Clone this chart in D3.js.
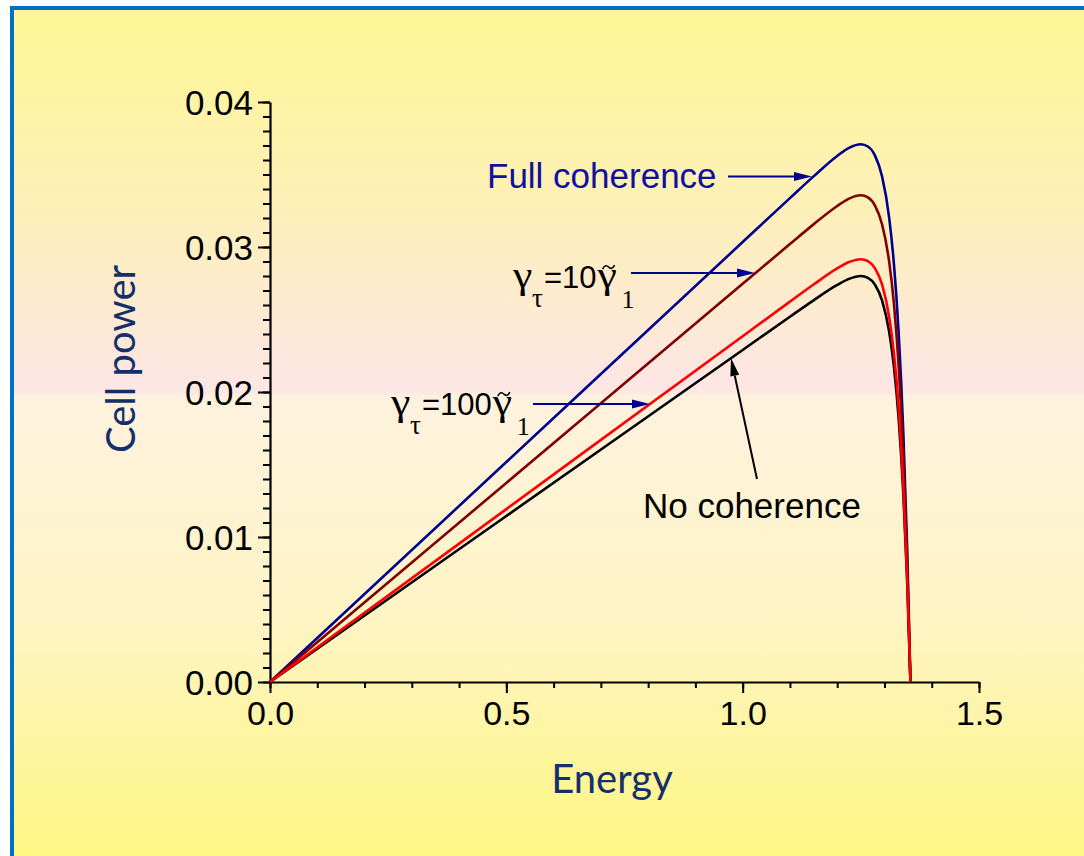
<!DOCTYPE html>
<html><head><meta charset="utf-8">
<script src="https://cdn.jsdelivr.net/npm/d3@7"></script>
<style>body{margin:0;background:#fff}svg{display:block}</style>
</head><body>
<script>
// ---- data ----
const energy        = [0, 0.5, 1.0, 1.1, 1.15, 1.2, 1.225, 1.25, 1.265, 1.28, 1.295, 1.31, 1.32, 1.33, 1.34, 1.348, 1.355];
const fullCoherence = [0, 0.01517, 0.03034, 0.03337, 0.03487, 0.03628, 0.03684, 0.03709, 0.03693, 0.03630, 0.03486, 0.03201, 0.02884, 0.02409, 0.01708, 0.00920, 0];
const gamma10       = [0, 0.01373, 0.02746, 0.03020, 0.03156, 0.03283, 0.03334, 0.03357, 0.03342, 0.03285, 0.03155, 0.02897, 0.02610, 0.02180, 0.01545, 0.00833, 0];
const gamma100      = [0, 0.011925, 0.02385, 0.02623, 0.02741, 0.02852, 0.02896, 0.02916, 0.02903, 0.02853, 0.02740, 0.02516, 0.02267, 0.01894, 0.01342, 0.00723, 0];
const noCoherence   = [0, 0.01145, 0.02290, 0.02519, 0.02632, 0.02738, 0.02780, 0.02800, 0.02787, 0.02740, 0.02631, 0.02416, 0.02176, 0.01818, 0.01289, 0.00695, 0];
const xTicks = [0, 0.5, 1.0, 1.5];
const yTicks = [0, 0.01, 0.02, 0.03, 0.04];
const xTitle = "Energy";
const yTitle = "Cell power";

const W = 1084, H = 856;
const svg = d3.select("body").append("svg").attr("width", W).attr("height", H);

// background panel
const defs = svg.append("defs");
const grad = defs.append("linearGradient").attr("id","bg").attr("x1",0).attr("y1",0).attr("x2",0).attr("y2",1);
[[0,"#fff795"],[0.22,"#fef0b8"],[0.415,"#fde6e3"],[0.428,"#fde8e4"],[0.431,"#fef2df"],[0.68,"#fef4c4"],[0.94,"#fff684"],[1,"#fff684"]]
  .forEach(([o,c]) => grad.append("stop").attr("offset",o).attr("stop-color",c));
svg.append("rect").attr("x",12).attr("y",8).attr("width",1100).attr("height",900)
  .attr("fill","url(#bg)").attr("stroke","#0070c0").attr("stroke-width",4);

const x = d3.scaleLinear().domain([0,1.5]).range([270,979]);
const y = d3.scaleLinear().domain([0,0.04]).range([682,102]);

const tickFont = "'Liberation Sans', Arial, sans-serif";
const serif = "'Liberation Serif', 'Times New Roman', serif";

// minor ticks
svg.append("g").attr("transform","translate(0,682)")
  .call(d3.axisBottom(x).tickValues(d3.range(0,1.501,0.1)).tickSize(6).tickFormat(""))
  .call(g=>{g.select(".domain").remove(); g.selectAll("line").attr("stroke","#000").attr("stroke-width",2);});
svg.append("g").attr("transform","translate(270,0)")
  .call(d3.axisLeft(y).tickValues(d3.range(0,0.04001,0.001)).tickSize(7).tickFormat(""))
  .call(g=>{g.select(".domain").remove(); g.selectAll("line").attr("stroke","#000").attr("stroke-width",2);});

// major axes
const gx = svg.append("g").attr("transform","translate(0,682)")
  .call(d3.axisBottom(x).tickValues(xTicks).tickSize(11).tickSizeOuter(0).tickPadding(8).tickFormat(d3.format(".1f")));
const gy = svg.append("g").attr("transform","translate(270,0)")
  .call(d3.axisLeft(y).tickValues(yTicks).tickSize(12).tickSizeOuter(0).tickPadding(5).tickFormat(d3.format(".2f")));
[gx,gy].forEach(g=>{
  g.select(".domain").attr("stroke","#000").attr("stroke-width",2.2);
  g.selectAll("line").attr("stroke","#000").attr("stroke-width",2);
  g.selectAll("text").attr("fill","#000").style("font-family",tickFont).style("font-size","34px");
});
gy.selectAll("text").attr("dy","0.36em").style("font-size","35px");

// curves
const series = [
  {vals: fullCoherence, color:"#00008e"},
  {vals: gamma10,       color:"#800000"},
  {vals: noCoherence,   color:"#000000"},
  {vals: gamma100,      color:"#ff0000"}
];
const line = d3.line().x((d,i)=>x(energy[i])).y(d=>y(d)).curve(d3.curveMonotoneX);
series.forEach(s=>{
  svg.append("path").attr("d", line(s.vals)).attr("fill","none")
    .attr("stroke", s.color).attr("stroke-width",2.6).attr("stroke-linejoin","round");
});

// annotations (data coordinates)
function arrow(x0,y0,x1,y1,color){
  const px0=x(x0), py0=y(y0), px1=x(x1), py1=y(y1);
  const a=Math.atan2(py1-py0,px1-px0), L=18, hw=4.5;
  const bx=px1-L*Math.cos(a), by=py1-L*Math.sin(a);
  svg.append("line").attr("x1",px0).attr("y1",py0).attr("x2",bx).attr("y2",by)
    .attr("stroke",color).attr("stroke-width",2);
  svg.append("path").attr("d",`M${px1},${py1}L${bx+hw*Math.sin(a)},${by-hw*Math.cos(a)}L${bx-hw*Math.sin(a)},${by+hw*Math.cos(a)}Z`)
    .attr("fill",color);
}
svg.append("text").attr("x",x(0.4591)).attr("y",y(0.03407)).attr("fill","#1010a0")
  .style("font-family",tickFont).style("font-size","35px").text("Full coherence");
arrow(0.969,0.03486,1.1467,0.03486,"#00008e");

function gammaLabel(px,py,num){
  const g = svg.append("g").attr("transform",`translate(${px},${py})`).attr("fill","#000");
  g.append("text").attr("transform","scale(1.12,1)").style("font-family",serif).style("font-size","39px").text("γ");
  g.append("text").attr("x",19).attr("y",19).style("font-family",serif).style("font-size","27px").text("τ");
  const eq = g.append("text").attr("x",31).style("font-family",tickFont).style("font-size","31px").text("="+num);
  const w = eq.node().getComputedTextLength();
  const gx2 = 31 + w + 1;
  g.append("text").attr("transform",`translate(${gx2},0) scale(1.12,1)`).style("font-family",serif).style("font-size","39px").text("γ");
  const cx = gx2 + 11, cy = -21;
  g.append("path").attr("d",`M${cx-6},${cy+2}C${cx-4},${cy-2} ${cx-2},${cy-2} ${cx},${cy}S${cx+4},${cy+2} ${cx+6},${cy-2}`)
    .attr("fill","none").attr("stroke","#000").attr("stroke-width",1.6);
  g.append("text").attr("x",gx2+24).attr("y",20).style("font-family",serif).style("font-size","26px").text("1");
}
gammaLabel(x(0.5141),y(0.02717),"10");
arrow(0.7638,0.02821,1.0261,0.02821,"#00008e");
gammaLabel(x(0.256),y(0.01841),"100");
arrow(0.5564,0.01917,0.8039,0.01917,"#00008e");

svg.append("text").attr("x",x(0.7891)).attr("y",y(0.01131)).attr("fill","#000")
  .style("font-family",tickFont).style("font-size","35px").text("No coherence");
arrow(1.0303,0.0140,0.9753,0.02234,"#000");

// axis titles
const titleFont = "Lato, 'Open Sans', sans-serif";
svg.append("text").attr("x",612).attr("y",793).attr("text-anchor","middle").attr("fill","#142f6b")
  .style("font-family",titleFont).style("font-size","40px").text(xTitle);
svg.append("text").attr("transform","translate(135,359) rotate(-90)").attr("text-anchor","middle").attr("fill","#142f6b")
  .style("font-family",titleFont).style("font-size","40px").text(yTitle);
</script>
</body></html>
